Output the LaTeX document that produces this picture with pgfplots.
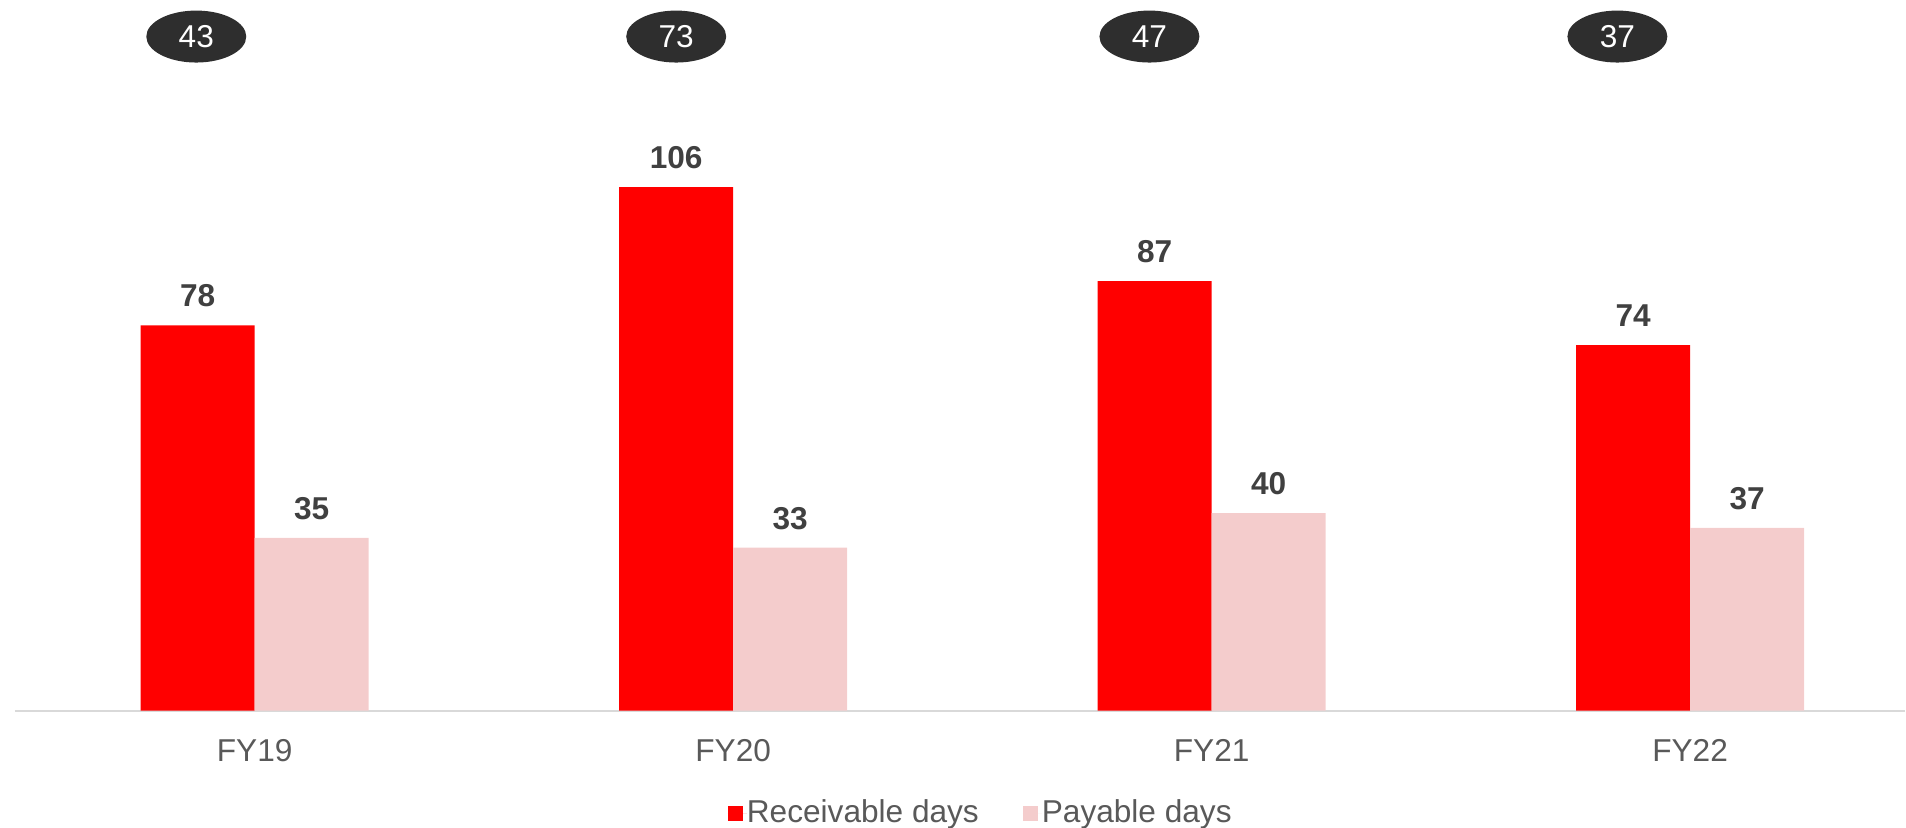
\documentclass[border=0pt]{standalone}
\usepackage{pgfplots}
\pgfplotsset{compat=1.18}
\usepackage{fontspec}
\setmainfont{Liberation Sans}
\usetikzlibrary{shapes.geometric}

\definecolor{recv}{HTML}{FF0000}
\definecolor{pay}{HTML}{F4CCCC}
\definecolor{lbl}{HTML}{404040}
\definecolor{tck}{HTML}{595959}
\definecolor{pill}{HTML}{2E2E2E}
\definecolor{axln}{HTML}{D9D9D9}

\begin{document}
\begin{tikzpicture}
\begin{axis}[
    scale only axis,
    width=18.91cm,
    height=7.11cm,
    xmin=-0.501, xmax=3.449,
    ymin=0, ymax=143.9,
    axis x line*=bottom,
    hide y axis,
    axis line style={draw=axln, line width=0.6pt},
    xtick={0,1,2,3},
    xticklabels={FY19,FY20,FY21,FY22},
    major tick length=0pt,
    xticklabel style={font=\fontsize{9}{10}\selectfont, text=tck, yshift=-4.6pt},
    clip=false,
    bar width=11.4mm,
    /pgf/number format/assume math mode=true,
    nodes near coords,
    every node near coord/.append style={font=\bfseries\fontsize{9}{10}\selectfont, text=lbl, inner sep=0pt, yshift=5pt},
    legend style={
        at={(0.5105,-0.1445)},
        anchor=center,
        draw=none,
        fill=none,
        inner sep=0pt,
        legend columns=2,
        font=\fontsize{9}{10}\selectfont,
        text=tck,
        nodes={inner sep=0pt},
        /tikz/every even column/.append style={column sep=4.4mm},
    },
    legend image code/.code={\fill[#1] (0mm,-0.75mm) rectangle (1.5mm,0.75mm);
        \path (0mm,0mm) -- (1.9mm,0mm);},
]

% receivable days
\addplot[ybar, bar shift=-5.7mm, fill=recv, draw=none,
    every node near coord/.append style={xshift=-5.7mm}]
    coordinates {(0,78) (1,106) (2,87) (3,74)};
\addlegendentry{Receivable days}

% payable days
\addplot[ybar, bar shift=5.7mm, fill=pay, draw=none,
    every node near coord/.append style={xshift=5.7mm}]
    coordinates {(0,35) (1,33) (2,40) (3,37)};
\addlegendentry{Payable days}

% net days in the dark pills above
\addplot[forget plot, only marks, mark=*, mark options={draw=none, fill=none},
    point meta=explicit symbolic,
    nodes near coords,
    every node near coord/.style={ellipse, fill=pill, text=white, inner sep=0pt,
        minimum width=10mm, minimum height=5.2mm, anchor=center,
        font=\fontsize{9}{10}\selectfont}]
    coordinates {(-0.122,136.5) [43] (0.881,136.5) [73] (1.870,136.5) [47] (2.848,136.5) [37]};

\path[draw=none] (axis description cs:-0.0079,-0.1646) rectangle (axis description cs:1,1);
\end{axis}
\end{tikzpicture}
\end{document}
